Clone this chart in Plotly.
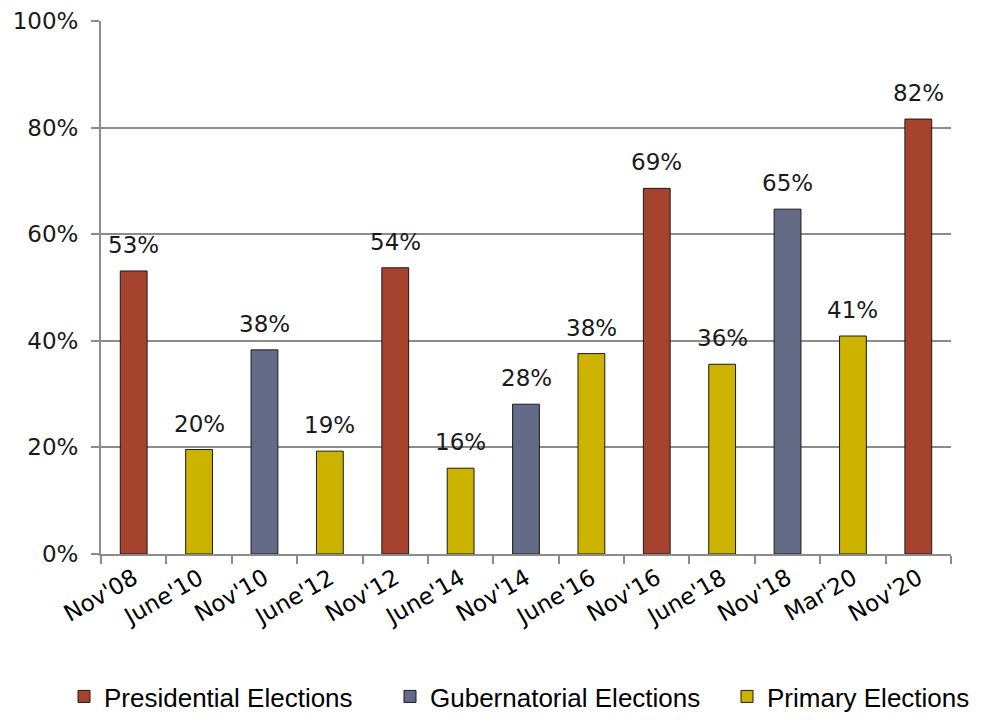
import plotly.graph_objects as go

categories = ["Nov'08", "June'10", "Nov'10", "June'12", "Nov'12", "June'14", "Nov'14",
              "June'16", "Nov'16", "June'18", "Nov'18", "Mar'20", "Nov'20"]
types = ["P", "R", "G", "R", "P", "R", "G", "R", "P", "R", "G", "R", "P"]
values = [53.1, 19.6, 38.3, 19.3, 53.7, 16.1, 28.1, 37.6, 68.6, 35.6, 64.7, 40.9, 81.6]
labels = ["53%", "20%", "38%", "19%", "54%", "16%", "28%", "38%", "69%", "36%", "65%", "41%", "82%"]

series = [("P", "Presidential Elections", "#A5432E"),
          ("G", "Gubernatorial Elections", "#636B87"),
          ("R", "Primary Elections", "#CBB300")]
legend_left = [64, 390, 727]

FONT = "DejaVu Sans, Noto Sans, sans-serif"
LFONT = dict(family="Liberation Sans, Arial, sans-serif", size=26, color="#000")

fig = go.Figure()
layout_legends = {}
for i, (key, name, color) in enumerate(series):
    xs = [c for c, t in zip(categories, types) if t == key]
    ys = [v for v, t in zip(values, types) if t == key]
    lname = "legend" if i == 0 else f"legend{i+1}"
    fig.add_trace(go.Bar(x=xs, y=ys, name=name, legend=lname,
                         marker=dict(color=color, line=dict(color="#1a1a1a", width=1)),
                         width=0.41, hoverinfo="skip"))
    layout_legends[lname] = dict(orientation="h", xref="container", yref="container",
                                 x=legend_left[i] / 982, xanchor="left",
                                 y=0, yanchor="bottom",
                                 font=LFONT, itemwidth=30, bgcolor="rgba(0,0,0,0)")

for c, v, lab in zip(categories, values, labels):
    fig.add_annotation(x=c, y=v, text=lab, showarrow=False, yanchor="bottom", yshift=11,
                       font=dict(family=FONT, size=23, color="#1a1a1a"))

fig.update_layout(
    width=982, height=720,
    margin=dict(l=101, r=31, t=21, b=166),
    paper_bgcolor="white", plot_bgcolor="white",
    barmode="overlay",
    showlegend=True,
    **layout_legends,
    xaxis=dict(type="category", categoryorder="array", categoryarray=categories,
               tickangle=-30, tickson="boundaries", ticks="outside", ticklen=8, tickcolor="#8c8c8c",
               tickwidth=2, showline=True, linecolor="#8c8c8c", linewidth=2, showgrid=False,
               automargin=False,
               tickfont=dict(family=FONT, size=23, color="#000")),
    yaxis=dict(range=[0, 100], dtick=20, ticksuffix="%", showgrid=True, gridcolor="#8c8c8c", gridwidth=2,
               showline=True, linecolor="#8c8c8c", linewidth=2, ticks="outside", ticklen=8,
               tickcolor="#8c8c8c", tickwidth=2, zeroline=False, automargin=False,
               ticklabelstandoff=8,
               tickfont=dict(family=FONT, size=23, color="#1a1a1a")),
)

fig.write_html("out.html")
